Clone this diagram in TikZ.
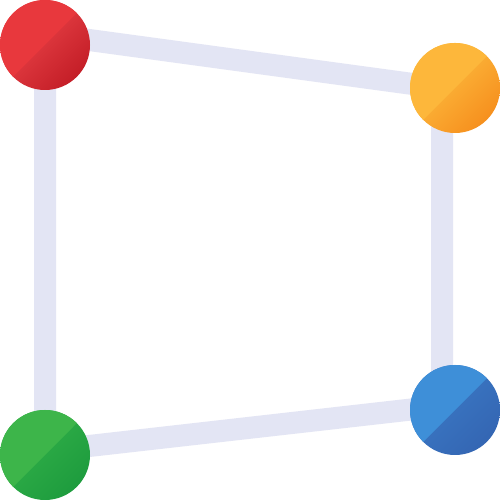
\documentclass[tikz,border=0pt]{standalone}
\usepackage{tikz}

\definecolor{edgecol}{HTML}{E3E5F4}
\definecolor{redflat}{HTML}{E8383D}
\definecolor{redlight}{HTML}{F04A4F}
\definecolor{reddark}{HTML}{C41E27}
\definecolor{yelflat}{HTML}{FDB73B}
\definecolor{yellight}{HTML}{FFC546}
\definecolor{yeldark}{HTML}{F6901E}
\definecolor{bluflat}{HTML}{3E8FD8}
\definecolor{blulight}{HTML}{3C7CC8}
\definecolor{bludark}{HTML}{3466B3}
\definecolor{grnflat}{HTML}{3DB54A}
\definecolor{grnlight}{HTML}{34B34A}
\definecolor{grndark}{HTML}{1E9C3E}

\tikzset{
    edge/.style={draw=edgecol, line width=0.44cm, line join=round},
    ball/.style n args={3}{circle, minimum size=1.8cm, inner sep=0pt,
        shading=axis, top color=#2, middle color=#2, bottom color=#3, shading angle=45,
        path picture={\fill[#1] (path picture bounding box.south west) -- (path picture bounding box.north east) -- (path picture bounding box.north west) -- cycle;}}
}

\begin{document}
\begin{tikzpicture}
                \useasboundingbox[fill=white] (0, 0) rectangle (10, 10);
                \coordinate (tl) at (0.9, 9.32);
                \coordinate (tr) at (8.84, 8.24);
                \coordinate (br) at (8.84, 1.88);
                \coordinate (bl) at (0.9, 0.98);
                \draw[edge] (tl) -- (tr) -- (br) -- (bl) -- cycle;
                \node[ball={redflat}{redlight}{reddark}] (red) at (0.9, 9.1) {};
                \node[ball={yelflat}{yellight}{yeldark}] (yellow) at (9.1, 8.24) {};
                \node[ball={bluflat}{blulight}{bludark}] (blue) at (9.1, 1.8) {};
                \node[ball={grnflat}{grnlight}{grndark}] (green) at (0.9, 0.9) {};
            \end{tikzpicture}
\end{document}
